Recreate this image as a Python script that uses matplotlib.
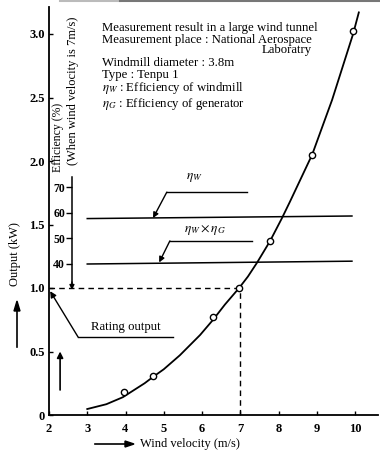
import matplotlib
matplotlib.use("Agg")
import matplotlib.pyplot as plt
from matplotlib.lines import Line2D

plt.rcParams['font.family'] = ['Liberation Serif', 'DejaVu Serif']
plt.rcParams['mathtext.fontset'] = 'stix'

# ---- data ----
curve_x = [3.0, 3.5, 3.93, 4.5, 4.72, 5.0, 5.42, 5.95, 6.29, 6.6, 6.97, 7.2, 7.44, 7.78, 8.09, 8.3, 8.88, 9.4, 9.95, 10.1]
curve_y = [0.047, 0.085, 0.14, 0.25, 0.30, 0.36, 0.47, 0.63, 0.75, 0.87, 1.0, 1.09, 1.2, 1.37, 1.55, 1.68, 2.05, 2.48, 3.0, 3.17]
meas_x = [3.95, 4.72, 6.29, 6.97, 7.78, 8.88, 9.95]
meas_y = [0.18, 0.31, 0.77, 1.0, 1.37, 2.05, 3.02]
eff_x = [3.0, 9.92]
eta_w = [57.7, 58.7]
eta_wg = [40.0, 41.1]
rated_v = 7.0
rated_p = 1.0
x_ticks = [2, 3, 4, 5, 6, 7, 8, 9, 10]
y_ticks = [0, 0.5, 1.0, 1.5, 2.0, 2.5, 3.0]
y_tick_labels = ['0', '0.5', '1.0', '1.5', '2.0', '2.5', '3.0']
eff_ticks = [40, 50, 60, 70]

W, H = 380, 451
fig = plt.figure(figsize=(W / 100, H / 100), dpi=100)

def fp(x, y):
    return (x / W, 1 - y / H)

ax = fig.add_axes([49 / W, 36 / H, 329 / W, 408 / H])
XMAX = 2 + 329 / 38.25
YMAX = 408 / 127
ax.set_xlim(2, XMAX)
ax.set_ylim(0, YMAX)
for s in ['top', 'right']:
    ax.spines[s].set_visible(False)
for s in ['left', 'bottom']:
    ax.spines[s].set_linewidth(1.3)
ax.set_xticks(x_ticks)
ax.set_yticks(y_ticks)
ax.set_yticklabels(y_tick_labels)
ax.tick_params(direction='in', length=3, width=1, labelsize=9, pad=3)
for lab in ax.get_xticklabels() + ax.get_yticklabels():
    lab.set_fontweight('bold')
ax.tick_params(axis='x', pad=6)

# curve and points
ax.plot(curve_x, curve_y, color='black', lw=1.3, zorder=3)
ax.plot(meas_x, meas_y, 'o', ms=4.5, mfc='white', mec='black', mew=1.0, zorder=4)

# rated dashed lines
ax.plot([2, rated_v], [rated_p, rated_p], color='black', lw=1.0, ls=(0, (4, 3)))
ax.plot([rated_v, rated_v], [0, rated_p], color='black', lw=1.0, ls=(0, (4, 3)))

# rating output leader
ax.plot([2.76, 5.24], [0.614, 0.614], color='black', lw=1.0)
ax.annotate('', xy=(2.03, 0.975), xytext=(2.76, 0.614),
            arrowprops=dict(arrowstyle='-|>', color='black', lw=1.0,
                            mutation_scale=9, shrinkA=0, shrinkB=0))
ax.text(4.01, 0.69, 'Rating output', ha='center', va='center', fontsize=9.2)

# small up arrow inside axes
ax.annotate('', xy=(2.29, 0.50), xytext=(2.29, 0.197),
            arrowprops=dict(arrowstyle='-|>', color='black', lw=1.2,
                            mutation_scale=9, shrinkA=0, shrinkB=0))

# ---- efficiency axis ----
ax2 = fig.add_axes(ax.get_position(), facecolor='none')
kw40 = (415 - 264) / 127
pct_per_kw = 127 / (77 / 30)
ax2.set_ylim(40 - kw40 * pct_per_kw, 40 + (YMAX - kw40) * pct_per_kw)
ax2.set_xlim(2, XMAX)
for s in ['top', 'right', 'bottom']:
    ax2.spines[s].set_visible(False)
ax2.spines['left'].set_position(('data', 2.60))
ax2.spines['left'].set_bounds(31.5, 74)
ax2.spines['left'].set_linewidth(1.1)
ax2.set_xticks([])
ax2.set_yticks(eff_ticks)
ax2.tick_params(axis='y', direction='out', length=4, width=1, labelsize=8.5, pad=1)
for lab in ax2.get_yticklabels():
    lab.set_fontweight('bold')
ax2.annotate('', xy=(2.60, 29.9), xytext=(2.60, 33),
             arrowprops=dict(arrowstyle='-|>', color='black', lw=1.0,
                             mutation_scale=7, shrinkA=0, shrinkB=0))

ax2.plot(eff_x, eta_w, color='black', lw=1.1)
ax2.plot(eff_x, eta_wg, color='black', lw=1.1)

# eta_w leader
ax2.plot([5.08, 7.18], [68, 68], color='black', lw=1.0)
ax2.annotate('', xy=(4.72, 57.9), xytext=(5.08, 68),
             arrowprops=dict(arrowstyle='-|>', color='black', lw=1.0,
                             mutation_scale=8, shrinkA=0, shrinkB=0))
# eta_w x eta_g leader
ax2.plot([5.16, 7.31], [49, 49], color='black', lw=1.0)
ax2.annotate('', xy=(4.88, 40.6), xytext=(5.16, 49),
             arrowprops=dict(arrowstyle='-|>', color='black', lw=1.0,
                             mutation_scale=8, shrinkA=0, shrinkB=0))

fig.text(*fp(186, 178), r'$\eta_W$', fontsize=9.5, ha='left', va='center')
fig.text(*fp(184, 230), r'$\eta_W \times \eta_G$', fontsize=9.5, ha='left', va='center')

# ---- text block ----
fs = 9.2
fig.text(*fp(102, 21.5), 'Measurement result in a large wind tunnel\n'
         'Measurement place : National Aerospace',
         fontsize=fs, va='top', linespacing=1.0)
fig.text(*fp(262, 50), 'Laboratry', fontsize=fs, va='center')
fig.text(*fp(102, 57.5), 'Windmill diameter : 3.8m\n'
         'Type : Tenpu 1\n'
         r'$\eta_W$ : Efficiency of windmill' '\n'
         r'$\eta_G$ : Efficiency of generator',
         fontsize=fs, va='top', linespacing=0.95)

# ---- axis labels ----
fig.text(*fp(15, 254), 'Output (kW)', rotation=90, fontsize=9, ha='center', va='center')
fig.add_artist(Line2D([17 / W, 17 / W], [1 - 347 / H, 1 - 310 / H], color='black', lw=1.2))
fig.add_artist(plt.Polygon([fp(14, 311), fp(20, 311), fp(17, 301)], closed=True,
                           color='black', transform=fig.transFigure))

fig.text(*fp(58, 137), 'Efficiency (%)', rotation=90, fontsize=8.5, ha='center', va='center')
fig.text(*fp(73, 91), '(When wind velocity is 7m/s)', rotation=90, fontsize=9, ha='center', va='center')

fig.text(*fp(140, 444), 'Wind velocity (m/s)', fontsize=9, ha='left', va='center')
fig.add_artist(Line2D([95 / W, 126 / W], [1 - 444 / H, 1 - 444 / H], color='black', lw=1.2))
fig.add_artist(plt.Polygon([fp(125, 441), fp(125, 447), fp(134, 444)], closed=True,
                           color='black', transform=fig.transFigure))

# top scan border
fig.add_artist(Line2D([60 / W, 120 / W], [1 - 0.5 / H, 1 - 0.5 / H], color='#bbbbbb', lw=1.5))
fig.add_artist(Line2D([120 / W, 1], [1 - 0.5 / H, 1 - 0.5 / H], color='#777777', lw=1.5))

fig.savefig('out.png', dpi=100)
